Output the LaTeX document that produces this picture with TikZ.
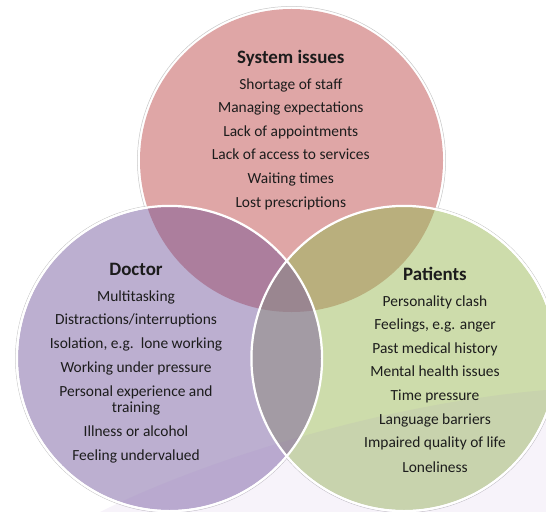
\documentclass[tikz,border=0pt]{standalone}
\usepackage{fontspec}
\setmainfont{Carlito}
\definecolor{txt}{RGB}{28,28,28}
\definecolor{cT}{RGB}{223,166,166}
\definecolor{cL}{RGB}{188,175,208}
\definecolor{cR}{RGB}{205,220,171}
\definecolor{cTL}{RGB}{172,126,157}
\definecolor{cTR}{RGB}{185,175,125}
\definecolor{cLR}{RGB}{163,155,164}
\definecolor{cTLR}{RGB}{154,134,144}
\definecolor{refl}{RGB}{150,100,200}
\definecolor{ring}{RGB}{200,200,200}
\begin{document}
\begin{tikzpicture}[x=1bp,y=-1bp,
  item/.style={anchor=base, text=txt, font=\fontsize{15.5}{18}\selectfont, inner sep=0pt},
  head/.style={anchor=base, text=txt, font=\fontsize{19}{22}\selectfont\bfseries, inner sep=0pt},
  rim/.style={draw=white, line width=2.2bp},
  shadowring/.style={draw=ring, line width=0.5bp}]
\useasboundingbox (0,0) rectangle (546,512);
\fill[white] (0,0) rectangle (546,512);
\coordinate (T) at (291.5,160.5);
\coordinate (L) at (169.5,358.5);
\coordinate (R) at (404,358.5);
\def\rr{151.5bp}
\def\rg{154.1bp}
\def\rw{152.6bp}
% faint outer rings
\draw[shadowring] (T) circle[radius=\rg];
\draw[shadowring] (L) circle[radius=\rg];
\draw[shadowring] (R) circle[radius=\rg];
% fills
\fill[cT] (T) circle[radius=\rr];
\fill[cL] (L) circle[radius=\rr];
\begin{scope}
  \clip (T) circle[radius=\rr];
  \fill[cTL] (L) circle[radius=\rr];
\end{scope}
\fill[cR] (R) circle[radius=\rr];
\begin{scope}
  \clip (R) circle[radius=\rr];
  \fill[cTR] (T) circle[radius=\rr];
  \fill[cLR] (L) circle[radius=\rr];
  \clip (T) circle[radius=\rr];
  \fill[cTLR] (L) circle[radius=\rr];
\end{scope}
% soft reflection
\fill[refl, fill opacity=0.075] (100,512) .. controls (200,462) and (380,404) .. (546,390) -- (546,512) -- cycle;
% white rims
\draw[rim] (L) circle[radius=\rw];
\draw[rim] (R) circle[radius=\rw];
% System issues
\node[head] (t0) at (290.8,63.3) {System issues};
\node[item] (t1) at (290.8,89.2) {Shortage of staff};
\node[item] (t2) at (290.8,112.5) {Managing expectations};
\node[item] (t3) at (290.8,136.5) {Lack of appointments};
\node[item] (t4) at (290.8,159.8) {Lack of access to services};
\node[item] (t5) at (290.8,183.5) {Waiting times};
\node[item] (t6) at (290.8,207.5) {Lost prescriptions};
% Doctor
\node[head] (d0) at (136,275.3) {Doctor};
\node[item] (d1) at (136,301.2) {Multitasking};
\node[item] (d2) at (136,324.5) {Distractions/interruptions};
\node[item] (d3) at (136,348.8) {Isolation, e.g.\ \ lone working};
\node[item] (d4) at (136,372.2) {Working under pressure};
\node[item] (d5) at (136,396.2) {Personal experience and};
\node[item] (d6) at (136,412.8) {training};
\node[item] (d7) at (136,436.5) {Illness or alcohol};
\node[item] (d8) at (136,460.2) {Feeling undervalued};
% Patients
\node[head] (p0) at (435,280.7) {Patients};
\node[item] (p1) at (435,306.5) {Personality clash};
\node[item] (p2) at (435,329.8) {Feelings, e.g. anger};
\node[item] (p3) at (435,353.8) {Past medical history};
\node[item] (p4) at (435,376.8) {Mental health issues};
\node[item] (p5) at (435,400.8) {Time pressure};
\node[item] (p6) at (435,424.8) {Language barriers};
\node[item] (p7) at (435,447.8) {Impaired quality of life};
\node[item] (p8) at (435,472.2) {Loneliness};
\end{tikzpicture}
\end{document}
